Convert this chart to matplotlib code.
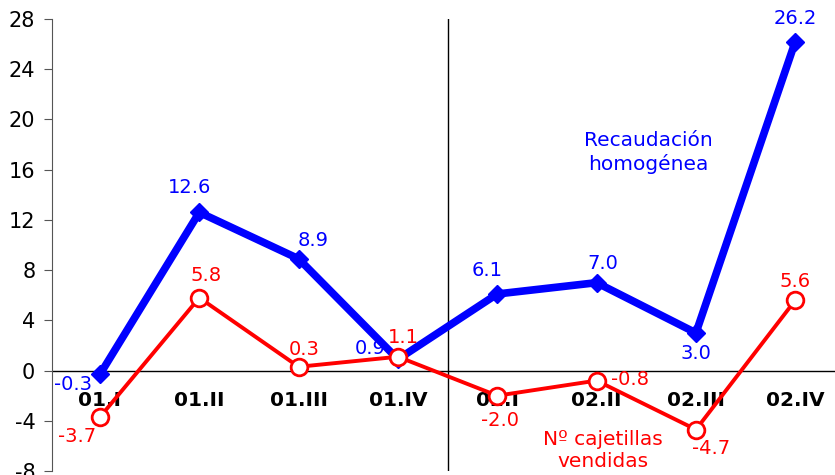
import matplotlib
matplotlib.use("Agg")
import matplotlib.pyplot as plt

# quarters and year-on-year growth (%)
quarters = ["01.I", "01.II", "01.III", "01.IV", "02.I", "02.II", "02.III", "02.IV"]
recaudacion = [-0.3, 12.6, 8.9, 0.9, 6.1, 7.0, 3.0, 26.2]
cajetillas = [-3.7, 5.8, 0.3, 1.1, -2.0, -0.8, -4.7, 5.6]
yticks = list(range(-8, 29, 4))

BLUE = "#0000FF"
RED = "#FF0000"

# label offsets in pixels (dx, dy) relative to each point
blue_off = [(-27, -10), (-10, 25), (14, 18), (-28, 11), (-10, 23), (6, 19), (0, -21), (0, 23)]
red_off = [(-23, -19), (7, 22), (6, 17), (5, 19), (3, -25), (33, 1), (15, -19), (0, 19)]

plt.rcParams["font.family"] = ["DejaVu Sans"]
plt.rcParams["axes.unicode_minus"] = False

fig = plt.figure(figsize=(8.35, 4.75), dpi=100)
ax = fig.add_axes([52 / 835, 4 / 475, 783 / 835, 452 / 475])

x = list(range(len(quarters)))

ax.axhline(0, color="black", lw=1, zorder=1)
ax.axvline(3.5, color="black", lw=1, zorder=1)

ax.plot(x, recaudacion, color=BLUE, lw=5.5, marker="D", markersize=9,
        zorder=3, solid_capstyle="butt")
ax.plot(x, cajetillas, color=RED, lw=2.8, marker="o", markersize=12,
        markerfacecolor="white", markeredgecolor=RED, markeredgewidth=2, zorder=4)

for xi, v, (dx, dy) in zip(x, recaudacion, blue_off):
    ax.annotate(f"{v:.1f}", (xi, v), xytext=(dx, dy), textcoords="offset pixels",
                ha="center", va="center", color=BLUE, fontsize=14, zorder=5)
for xi, v, (dx, dy) in zip(x, cajetillas, red_off):
    ax.annotate(f"{v:.1f}", (xi, v), xytext=(dx, dy), textcoords="offset pixels",
                ha="center", va="center", color=RED, fontsize=14, zorder=5)

# category labels sit just under the zero line
for xi, q in zip(x, quarters):
    ax.text(xi, -2.4, q, ha="center", va="center", fontsize=14.5,
            fontweight="bold", color="black", zorder=2)

ax.text(5.52, 17.36, "Recaudación\nhomogénea", ha="center", va="center",
        color=BLUE, fontsize=14.5, linespacing=1.25)
ax.text(5.06, -6.37, "Nº cajetillas\nvendidas", ha="center", va="center",
        color=RED, fontsize=14.5, linespacing=1.25)

ax.set_xlim(-0.483, 7.40)
ax.set_ylim(-8, 28)
ax.set_yticks(yticks)
ax.set_xticks([])
ax.tick_params(axis="y", labelsize=15, length=6, pad=6, direction="out",
               color="#555555")
for s in ("top", "right", "bottom"):
    ax.spines[s].set_visible(False)
ax.spines["left"].set_color("#555555")
ax.patch.set_alpha(0)

fig.savefig("out.png", dpi=100)
